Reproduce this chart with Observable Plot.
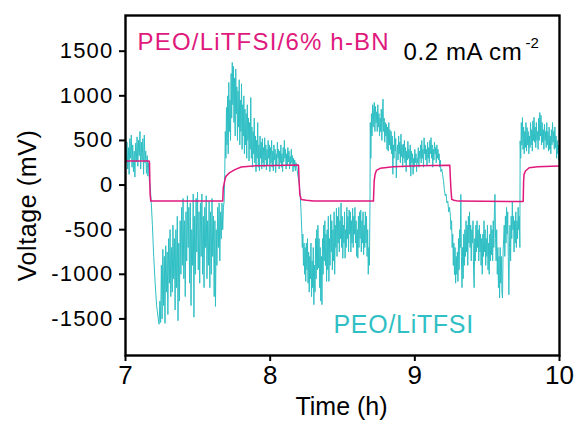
<!DOCTYPE html>
<html>
<head>
<meta charset="utf-8">
<script src="https://cdn.jsdelivr.net/npm/d3@7"></script>
<script src="https://cdn.jsdelivr.net/npm/@observablehq/plot@0.6"></script>
<style>
  html, body { margin: 0; padding: 0; background: #fff; }
  #chart { width: 578px; height: 423px; }
</style>
</head>
<body>
<div id="chart"></div>
<script>
// ---------- data (time in h, voltage in mV) ----------
const xTicks = [7, 8, 9, 10];
const yTicks = [-1500, -1000, -500, 0, 500, 1000, 1500];

const seriesLabelA = "PEO/LiTFSI/6% h-BN";
const seriesLabelB = "PEO/LiTFSI";
const currentLabel = "0.2 mA cm";
const currentExp = "-2";
const xLabel = "Time (h)";
const yLabel = "Voltage (mV)";

// h-BN composite electrolyte (smooth square wave)
const hbnSeries = [
  [7.000, 270], [7.163, 270], [7.166, 250], [7.170, -100], [7.175, -180],
  [7.672, -180], [7.676, -30], [7.690, 80], [7.696, 100], [7.720, 140], [7.760, 176],
  [7.800, 202], [7.900, 215], [8.030, 220], [8.196, 225], [8.200, 45], [8.205, -105],
  [8.215, -161], [8.250, -170], [8.300, -180], [8.714, -180], [8.716, -86], [8.719, 45],
  [8.725, 120], [8.735, 165], [8.760, 187], [8.850, 205], [9.025, 215], [9.242, 221],
  [9.245, 100], [9.249, -30], [9.255, -161], [9.270, -170], [9.300, -180], [9.749, -185],
  [9.752, 45], [9.755, 120], [9.765, 157], [9.790, 194], [9.850, 205], [10.000, 215]
];

// PEO/LiTFSI (noisy trace), split by half-cycle
const tealSeg1 = [
  [7.000, 600], [7.005, 250], [7.010, 480], [7.015, 180], [7.020, 420], [7.025, 120],
  [7.030, 520], [7.035, 300], [7.040, 560], [7.045, 200], [7.050, 450], [7.055, 150],
  [7.060, 380], [7.065, 90], [7.070, 470], [7.075, 260], [7.080, 540], [7.085, 210],
  [7.090, 500], [7.095, 330], [7.100, 600], [7.105, 180], [7.110, 480], [7.115, 280],
  [7.120, 520], [7.125, 120], [7.130, 560], [7.135, 250], [7.140, 380], [7.145, 130],
  [7.150, 330], [7.155, 100], [7.160, 250], [7.165, 40], [7.170, 10], [7.178, -200],
  [7.186, -450], [7.195, -800], [7.205, -1100], [7.215, -1350], [7.225, -1480]
];
const tealSeg2 = [
  [7.232, -1560], [7.238, -1300], [7.243, -1540], [7.248, -900], [7.253, -1500], [7.258, -720],
  [7.263, -1350], [7.268, -800], [7.273, -1550], [7.278, -680], [7.283, -1200], [7.288, -750],
  [7.293, -1450], [7.298, -600], [7.303, -1100], [7.308, -500], [7.313, -1250], [7.318, -700],
  [7.323, -1200], [7.328, -450], [7.333, -1050], [7.338, -600], [7.343, -1400], [7.348, -500],
  [7.353, -1150], [7.358, -350], [7.363, -1520], [7.368, -650], [7.373, -1300], [7.378, -400],
  [7.383, -1000], [7.388, -250], [7.393, -900], [7.398, -150], [7.403, -1050], [7.408, -400],
  [7.413, -1250], [7.418, -300], [7.423, -850], [7.428, -120], [7.433, -700], [7.438, -250],
  [7.443, -1100], [7.448, -200], [7.453, -1350], [7.458, -500], [7.463, -900], [7.468, -100],
  [7.473, -1480], [7.478, -350], [7.483, -1000], [7.488, -150], [7.493, -750], [7.498, -80],
  [7.503, -950], [7.508, -300], [7.513, -1100], [7.518, -200], [7.523, -800], [7.528, -100],
  [7.533, -1000], [7.538, -350], [7.543, -1150], [7.548, -250], [7.553, -700], [7.558, -120],
  [7.563, -1050], [7.568, -400], [7.573, -900], [7.578, -180], [7.583, -1150], [7.588, -300],
  [7.593, -1000], [7.598, -150], [7.603, -800], [7.608, -350], [7.613, -1250], [7.618, -400],
  [7.622, -1360], [7.627, -500], [7.632, -900], [7.637, -250], [7.642, -700], [7.647, -200],
  [7.652, -850], [7.657, -300], [7.662, -600], [7.667, -200], [7.672, -500], [7.677, -250],
  [7.682, -180]
];
const tealSeg3 = [
  [7.686, 130], [7.690, 600], [7.694, 300], [7.698, 870], [7.702, 450], [7.706, 1000],
  [7.710, 350], [7.714, 1150], [7.718, 600], [7.722, 950], [7.726, 500], [7.730, 1250],
  [7.734, 750], [7.738, 1374], [7.742, 900], [7.746, 1330], [7.750, 700], [7.754, 1200],
  [7.758, 550], [7.762, 1300], [7.766, 800], [7.770, 1100], [7.774, 500], [7.778, 1050],
  [7.782, 650], [7.786, 1180], [7.790, 450], [7.794, 950], [7.798, 600], [7.802, 1135],
  [7.806, 400], [7.810, 900], [7.814, 550], [7.818, 1000], [7.822, 350], [7.826, 850],
  [7.830, 450], [7.834, 800], [7.838, 300], [7.842, 900], [7.846, 500], [7.850, 750],
  [7.854, 270], [7.858, 700], [7.862, 400], [7.866, 980], [7.870, 300], [7.874, 650],
  [7.878, 200], [7.882, 600], [7.886, 350], [7.890, 750], [7.894, 250], [7.898, 550],
  [7.902, 150], [7.906, 500], [7.910, 300], [7.914, 700], [7.918, 200], [7.922, 450],
  [7.926, 160], [7.930, 550], [7.934, 300], [7.938, 480], [7.942, 180], [7.946, 520],
  [7.950, 250], [7.954, 420], [7.958, 200], [7.962, 530], [7.966, 280], [7.970, 450],
  [7.974, 170], [7.978, 400], [7.982, 220], [7.986, 500], [7.990, 300], [7.994, 450],
  [7.998, 150], [8.002, 420], [8.006, 250], [8.010, 500], [8.014, 200], [8.018, 380],
  [8.022, 160], [8.026, 450], [8.030, 280], [8.034, 400], [8.038, 140], [8.042, 350],
  [8.046, 220], [8.050, 480], [8.054, 300], [8.058, 400], [8.062, 180], [8.066, 380],
  [8.070, 250], [8.074, 450], [8.078, 200], [8.082, 350], [8.086, 150], [8.090, 420],
  [8.094, 260], [8.098, 500], [8.102, 300], [8.106, 400], [8.110, 180], [8.114, 350],
  [8.118, 220], [8.122, 420], [8.126, 260], [8.130, 380], [8.134, 180], [8.138, 320],
  [8.142, 230], [8.146, 400], [8.150, 250], [8.154, 330], [8.158, 150], [8.162, 300],
  [8.166, 200], [8.170, 280], [8.174, 160], [8.178, 250], [8.184, 200], [8.190, 120],
  [8.200, 30], [8.207, -100], [8.212, -250]
];
const tealSeg4 = [
  [8.218, -480], [8.222, -700], [8.226, -550], [8.230, -900], [8.234, -650], [8.238, -1000],
  [8.242, -700], [8.246, -1080], [8.250, -650], [8.254, -950], [8.258, -600], [8.262, -1100],
  [8.266, -750], [8.270, -1200], [8.274, -800], [8.278, -1050], [8.282, -650], [8.286, -1250],
  [8.290, -850], [8.294, -1150], [8.298, -700], [8.302, -1340], [8.306, -900], [8.310, -1200],
  [8.314, -600], [8.318, -1050], [8.322, -500], [8.326, -950], [8.330, -450], [8.334, -930],
  [8.338, -600], [8.342, -1150], [8.346, -700], [8.350, -1300], [8.354, -800], [8.358, -1340],
  [8.362, -600], [8.366, -1000], [8.370, -450], [8.374, -850], [8.378, -400], [8.382, -900],
  [8.386, -550], [8.390, -1080], [8.394, -500], [8.398, -950], [8.402, -350], [8.406, -1080],
  [8.410, -600], [8.414, -900], [8.418, -330], [8.422, -750], [8.426, -400], [8.430, -950],
  [8.434, -500], [8.438, -850], [8.442, -300], [8.446, -1000], [8.450, -450], [8.454, -700],
  [8.458, -260], [8.462, -800], [8.466, -350], [8.470, -650], [8.474, -250], [8.478, -750],
  [8.482, -400], [8.486, -600], [8.490, -200], [8.494, -700], [8.498, -350], [8.502, -820],
  [8.506, -450], [8.510, -650], [8.514, -300], [8.518, -820], [8.522, -500], [8.526, -700],
  [8.530, -250], [8.534, -600], [8.538, -350], [8.542, -750], [8.546, -280], [8.550, -550],
  [8.554, -300], [8.558, -750], [8.562, -400], [8.566, -650], [8.570, -260], [8.574, -700],
  [8.578, -350], [8.582, -550], [8.586, -250], [8.590, -650], [8.594, -400], [8.598, -800],
  [8.602, -500], [8.606, -820], [8.610, -350], [8.614, -700], [8.618, -300], [8.622, -600],
  [8.626, -280], [8.630, -750], [8.634, -400], [8.638, -650], [8.642, -300], [8.646, -780],
  [8.650, -450], [8.654, -700], [8.658, -300], [8.662, -650], [8.666, -350], [8.670, -800],
  [8.674, -500], [8.678, -1000], [8.682, -700], [8.686, -900], [8.690, -200]
];
const tealSeg5 = [
  [8.692, 700], [8.696, 300], [8.700, 800], [8.704, 550], [8.708, 900], [8.712, 650],
  [8.716, 850], [8.720, 925], [8.724, 600], [8.728, 880], [8.732, 700], [8.736, 820],
  [8.740, 600], [8.744, 900], [8.748, 650], [8.752, 800], [8.756, 550], [8.760, 750],
  [8.764, 600], [8.768, 850], [8.772, 500], [8.776, 760], [8.780, 963], [8.784, 600],
  [8.788, 750], [8.792, 480], [8.796, 700], [8.800, 550], [8.804, 680], [8.808, 400],
  [8.812, 650], [8.816, 380], [8.820, 700], [8.824, 450], [8.828, 620], [8.832, 400],
  [8.836, 600], [8.840, 350], [8.844, 550], [8.848, 120], [8.852, 450], [8.856, 300],
  [8.860, 600], [8.864, 380], [8.868, 520], [8.872, 80], [8.876, 350], [8.880, 450],
  [8.884, 280], [8.888, 550], [8.892, 350], [8.896, 480], [8.900, 250], [8.904, 570],
  [8.908, 320], [8.912, 450], [8.916, 200], [8.920, 460], [8.924, 300], [8.928, 500],
  [8.932, 250], [8.936, 420], [8.940, 150], [8.944, 380], [8.948, 280], [8.952, 490],
  [8.956, 300], [8.960, 400], [8.964, 200], [8.968, 450], [8.972, 100], [8.976, 380],
  [8.980, 250], [8.984, 350], [8.988, 120], [8.992, 300], [8.996, 200], [9.000, 400],
  [9.004, 250], [9.008, 350], [9.012, 150], [9.016, 300], [9.020, 250], [9.024, 420],
  [9.028, 200], [9.032, 380], [9.036, 300], [9.040, 450], [9.044, 250], [9.048, 500],
  [9.052, 300], [9.056, 400], [9.060, 200], [9.064, 530], [9.068, 350], [9.072, 450],
  [9.076, 280], [9.080, 400], [9.084, 220], [9.088, 480], [9.092, 300], [9.096, 420],
  [9.100, 250], [9.104, 500], [9.108, 350], [9.112, 531], [9.116, 300], [9.120, 450],
  [9.124, 200], [9.128, 400], [9.132, 280], [9.136, 480], [9.140, 350], [9.144, 420],
  [9.148, 250], [9.152, 450], [9.156, 300], [9.160, 400], [9.164, 280], [9.168, 350],
  [9.172, 200], [9.176, 280], [9.180, 150], [9.186, 180], [9.192, 120], [9.198, 50],
  [9.204, -50], [9.210, -120], [9.216, -100], [9.222, -200], [9.228, -180], [9.234, -300],
  [9.240, -250]
];
const tealSeg6 = [
  [9.246, -350], [9.250, -500], [9.254, -400], [9.258, -700], [9.262, -550], [9.266, -900],
  [9.270, -650], [9.274, -1004], [9.278, -700], [9.282, -1100], [9.286, -800], [9.290, -1000],
  [9.294, -750], [9.298, -1080], [9.302, -600], [9.306, -950], [9.310, -500], [9.314, -700],
  [9.318, -105], [9.322, -800], [9.326, -1150], [9.330, -700], [9.334, -1050], [9.338, -550],
  [9.342, -900], [9.346, -500], [9.350, -800], [9.354, -400], [9.358, -750], [9.362, -450],
  [9.366, -900], [9.370, -350], [9.374, -650], [9.378, -300], [9.382, -700], [9.386, -450],
  [9.390, -850], [9.394, -500], [9.398, -650], [9.402, -400], [9.406, -950], [9.410, -1150],
  [9.414, -600], [9.418, -850], [9.422, -450], [9.426, -750], [9.430, -400], [9.434, -700],
  [9.438, -500], [9.442, -850], [9.446, -450], [9.450, -750], [9.454, -550], [9.458, -900],
  [9.462, -600], [9.466, -1000], [9.470, -550], [9.474, -800], [9.478, -400], [9.482, -750],
  [9.486, -500], [9.490, -900], [9.494, -600], [9.498, -800], [9.502, -450], [9.506, -950],
  [9.510, -650], [9.514, -1000], [9.518, -550], [9.522, -850], [9.526, -450], [9.530, -780],
  [9.534, -500], [9.538, -850], [9.542, -400], [9.546, -700], [9.550, -300], [9.554, -105],
  [9.558, -600], [9.562, -850], [9.566, -500], [9.570, -1000], [9.574, -700], [9.578, -1150],
  [9.582, -800], [9.586, -1266], [9.590, -700], [9.594, -1100], [9.598, -800], [9.602, -1200],
  [9.606, -1266], [9.610, -750], [9.614, -600], [9.618, -450], [9.622, -800], [9.626, -350],
  [9.630, -650], [9.634, -250], [9.638, -550], [9.642, -300], [9.646, -800], [9.650, -1229],
  [9.654, -700], [9.658, -450], [9.662, -850], [9.666, -350], [9.670, -600], [9.674, -180],
  [9.678, -500], [9.682, -350], [9.686, -750], [9.690, -400], [9.694, -650], [9.698, -300],
  [9.702, -700], [9.706, -400], [9.710, -600], [9.714, -250], [9.718, -500], [9.722, -350],
  [9.726, -700]
];
const tealSeg7 = [
  [9.728, 494], [9.732, 300], [9.736, 700], [9.740, 450], [9.744, 756], [9.748, 400],
  [9.752, 650], [9.756, 350], [9.760, 600], [9.764, 420], [9.768, 700], [9.772, 380],
  [9.776, 644], [9.780, 450], [9.784, 600], [9.788, 350], [9.792, 550], [9.796, 420],
  [9.800, 700], [9.804, 450], [9.808, 620], [9.812, 380], [9.816, 720], [9.820, 500],
  [9.824, 760], [9.828, 480], [9.832, 650], [9.836, 420], [9.840, 700], [9.844, 500],
  [9.848, 600], [9.852, 400], [9.856, 750], [9.860, 500], [9.864, 812], [9.868, 550],
  [9.872, 780], [9.876, 450], [9.880, 700], [9.884, 480], [9.888, 620], [9.892, 400],
  [9.896, 680], [9.900, 500], [9.904, 600], [9.908, 420], [9.912, 700], [9.916, 450],
  [9.920, 600], [9.924, 380], [9.928, 650], [9.932, 400], [9.936, 550], [9.940, 350],
  [9.944, 620], [9.948, 450], [9.952, 700], [9.956, 480], [9.960, 600], [9.964, 400],
  [9.968, 650], [9.972, 420], [9.976, 550], [9.980, 300], [9.984, 500], [9.988, 350],
  [9.992, 450], [9.996, 280], [10.000, 400]
];

// ---------- chart ----------
const tealSeries = [].concat(tealSeg1, tealSeg2, tealSeg3, tealSeg4, tealSeg5, tealSeg6, tealSeg7);
const TEAL = "#2fbfc4";
const PINK = "#e0197d";
const FONT = "'Liberation Sans', Arial, Helvetica, sans-serif";

const plot = Plot.plot({
  width: 578,
  height: 423,
  marginLeft: 125,
  marginRight: 19,
  marginTop: 15,
  marginBottom: 68,
  style: { fontFamily: FONT, background: "#fff", color: "#000" },
  x: { domain: [7, 10] },
  y: { domain: [-1910, 1900] },
  marks: [
    Plot.line(tealSeries, { x: d => d[0], y: d => d[1], stroke: TEAL, strokeWidth: 1, clip: true }),
    Plot.line(hbnSeries, { x: d => d[0], y: d => d[1], stroke: PINK, strokeWidth: 1.5, clip: true }),
    Plot.frame({ stroke: "#000", strokeWidth: 2.4 }),
    Plot.axisY({ ticks: yTicks, tickSize: 6, tickPadding: 6, strokeWidth: 2, fontSize: 22,
                 tickFormat: d => String(d), label: null }),
    Plot.axisX({ ticks: xTicks, tickSize: 6, tickPadding: 4, strokeWidth: 2, fontSize: 26,
                 tickFormat: d => String(d), label: null }),
    Plot.text([seriesLabelA], { text: d => d, frameAnchor: "top-left", dx: 12, dy: 17,
                 textAnchor: "start", lineAnchor: "top", fill: PINK, fontSize: 24 }),
    Plot.text([currentLabel], { text: d => d, frameAnchor: "top-left", dx: 278, dy: 27,
                 textAnchor: "start", lineAnchor: "top", fill: "#000", fontSize: 24 }),
    Plot.text([currentExp], { text: d => d, frameAnchor: "top-left", dx: 400, dy: 22,
                 textAnchor: "start", lineAnchor: "top", fill: "#000", fontSize: 15 }),
    Plot.text([seriesLabelB], { text: d => d, frameAnchor: "top-left", dx: 208, dy: 300,
                 textAnchor: "start", lineAnchor: "top", fill: TEAL, fontSize: 25 }),
    Plot.text([xLabel], { text: d => d, frameAnchor: "bottom", dx: -1, dy: 42,
                 textAnchor: "middle", lineAnchor: "top", fill: "#000", fontSize: 25 }),
    Plot.text([yLabel], { text: d => d, frameAnchor: "left", dx: -107, dy: 20, rotate: -90,
                 textAnchor: "middle", lineAnchor: "top", fill: "#000", fontSize: 25 })
  ]
});

// letter spacing tweaks to match the wide lettering of the original
const svg = d3.select(plot);
svg.selectAll("text").each(function () {
  const t = this.textContent;
  const s = d3.select(this);
  if (t === seriesLabelA) s.style("letter-spacing", "1.2px");
  else if (t === currentLabel) s.style("letter-spacing", "0.6px");
  else if (t === seriesLabelB) s.style("letter-spacing", "0.7px");
  else if (t === yLabel) s.style("letter-spacing", "0.6px");
});
svg.selectAll("g[aria-label='y-axis tick label'] text").style("letter-spacing", "1.2px");

document.getElementById("chart").appendChild(plot);
</script>
</body>
</html>
